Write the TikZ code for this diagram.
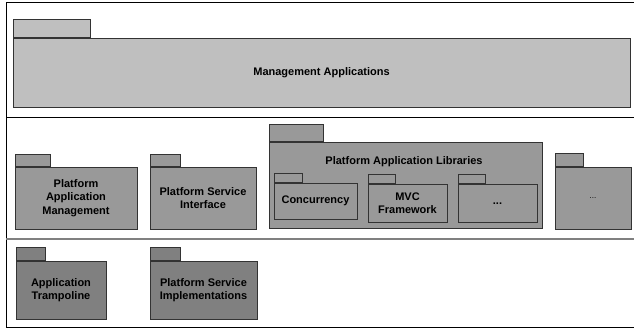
\documentclass[tikz,border=0pt]{standalone}
\usepackage{fontspec}
\setmainfont{Liberation Sans}
\usepackage{tikz}
\usetikzlibrary{positioning}

\begin{document}
\begin{tikzpicture}[
  x=1pt, y=-1pt,
  pkg/.style={draw=black!80, line width=0.8pt, fill=#1, inner sep=0pt,
              align=center, font=\bfseries\fontsize{11}{13.3}\selectfont},
  tab/.style={draw=black!80, line width=0.8pt, fill=#1, inner sep=0pt},
  layer/.style={line width=0.9pt},
]
  \useasboundingbox (0,0) rectangle (634,330);

  % outer frame and layer borders
  \draw[layer] (634,2) -- (6,2) -- (6,327) -- (634,327);
  \draw[layer] (6,117.5) -- (634,117.5);
  \draw[line width=1.5pt, black!50] (6,239) -- (634,239);

  % management layer
  \node[pkg=black!25, minimum width=617, minimum height=69] (mgmt) at (321.5,72.5) {Management Applications};
  \node[tab=black!25, minimum width=77, minimum height=18, above right=0pt of mgmt.north west] (mgmttab) {};

  % platform layer
  \node[pkg=black!40, minimum width=122, minimum height=62] (pam) at (76,198) {Platform\\Application\\Management};
  \node[tab=black!40, minimum width=35, minimum height=12, above right=0pt of pam.north west] (pamtab) {};

  \node[pkg=black!40, minimum width=106, minimum height=62] (psi) at (203,198) {Platform Service\\Interface};
  \node[tab=black!40, minimum width=30, minimum height=12, above right=0pt of psi.north west] (psitab) {};

  \node[pkg=black!40, minimum width=273, minimum height=86] (pal) at (405.5,185) {};
  \node[tab=black!40, minimum width=54, minimum height=17, above right=0pt of pal.north west] (paltab) {};
  \node[font=\bfseries\fontsize{11}{13.3}\selectfont] (paltitle) at (404,162) {Platform Application Libraries};

  \node[pkg=black!40, minimum width=83, minimum height=36] (conc) at (315.5,201) {Concurrency};
  \node[tab=black!40, minimum width=28, minimum height=9, above right=0pt of conc.north west] (conctab) {};

  \node[pkg=black!40, minimum width=79, minimum height=38] (mvc) at (407.5,203) {MVC\\Framework};
  \node[tab=black!40, minimum width=27, minimum height=9, above right=0pt of mvc.north west] (mvctab) {};

  \node[pkg=black!40, minimum width=79, minimum height=38] (libmore) at (497.5,203) {\raisebox{-3pt}{...}};
  \node[tab=black!40, minimum width=27, minimum height=9, above right=0pt of libmore.north west] (libmoretab) {};

  \node[pkg=black!40, minimum width=76, minimum height=62, font=\fontsize{8}{10}\selectfont] (platmore) at (593,198) {...};
  \node[tab=black!40, minimum width=28, minimum height=13, above right=0pt of platmore.north west] (platmoretab) {};

  % implementation layer
  \node[pkg=black!50, minimum width=90, minimum height=58] (tramp) at (61,290) {Application\\Trampoline};
  \node[tab=black!50, minimum width=29, minimum height=13, above right=0pt of tramp.north west] (tramptab) {};

  \node[pkg=black!50, minimum width=107, minimum height=58] (psimpl) at (203.5,290) {Platform Service\\Implementations};
  \node[tab=black!50, minimum width=30, minimum height=13, above right=0pt of psimpl.north west] (psimpltab) {};
\end{tikzpicture}
\end{document}
